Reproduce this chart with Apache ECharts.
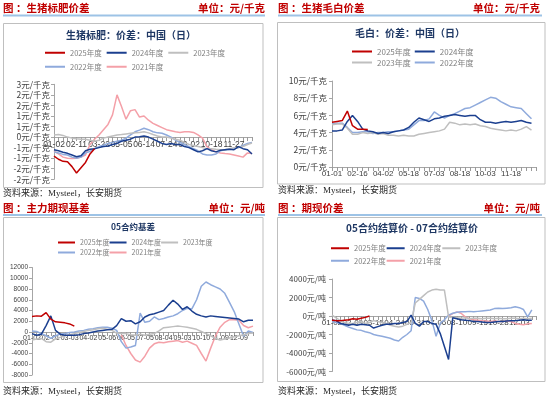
<!DOCTYPE html>
<html><head><meta charset="utf-8">
<script src="https://cdn.jsdelivr.net/npm/echarts@6.0.0/dist/echarts.min.js"></script>
<style>html,body{margin:0;padding:0;background:#fff;}#c{width:550px;height:399px;}</style>
</head><body><div id="c"></div>
<script>
// ================= DATA =================
const yearNames = ['2025年度','2024年度','2023年度','2022年度','2021年度'];

// Panel 1: 生猪标肥价差 (元/千克)
const p1XLabels = ['01-02','02-11','03-22','05-05','06-14','07-24','09-02','10-18','11-27'];
const p1YLabels = ['-2元/千克','-2元/千克','-1元/千克','-1元/千克','0元/千克','1元/千克','1元/千克','2元/千克','2元/千克','3元/千克'];
const p1_2025 = [-0.9,-1.05,-1.15,-1.17,-1.4,-1.7,-1.45,-1.2,-0.8,-0.55];
const p1_2024 = [-0.6,-0.65,-0.72,-0.77,-0.85,-0.93,-0.88,-0.65,-0.58,-0.55,-0.5,-0.45,-0.42,-0.35,-0.3,-0.2,-0.15,-0.1,0.0,0.02,0.05,0.0,-0.1,-0.2,-0.3,-0.35,-0.3,-0.35,-0.35,-0.45,-0.5,-0.6,-0.7,-0.65,-0.55,-0.65,-0.7,-0.62,-0.6,-0.58,-0.6,-0.45,-0.55,-0.6,-0.8];
const p1_2023 = [0.1,0.12,0.08,0.0,-0.05,-0.08,-0.1,-0.1,-0.15,-0.2,-0.15,-0.05,0.0,0.05,0.1,0.12,0.15,0.18,0.2,0.22,0.25,0.2,0.12,0.05,0.0,0.0,-0.05,-0.1,-0.15,-0.25,-0.35,-0.4,-0.45,-0.5,-0.55,-0.55,-0.58,-0.6,-0.6,-0.55,-0.5,-0.5,-0.45,-0.35,-0.28];
const p1_2022 = [-0.7,-0.75,-0.82,-0.85,-0.95,-1.0,-0.95,-0.75,-0.68,-0.55,-0.45,-0.38,-0.3,-0.25,-0.2,-0.15,-0.05,0.1,0.25,0.33,0.42,0.35,0.25,0.2,0.18,0.1,0.0,-0.15,-0.25,-0.35,-0.45,-0.55,-0.65,-0.8,-0.85,-0.85,-0.8,-0.65,-0.6,-0.58,-0.55,-0.5,-0.4,-0.3,-0.25];
const p1_2021 = [-0.66,-0.8,-0.95,-1.0,-1.02,-1.0,-0.95,-0.85,-0.35,-0.1,0.1,0.35,0.6,1.05,2.0,1.45,0.85,1.25,1.3,0.95,1.0,0.8,0.65,0.55,0.45,0.35,0.3,0.25,0.22,0.25,0.25,0.22,0.1,-0.05,-0.45,-0.6,-0.7,-0.75,-0.78,-0.8,-0.85,-0.9,-0.95,-0.75,-0.78];

// Panel 2: 生猪毛白价差 (元/千克)
const p2XLabels = ['01-01','02-16','04-02','05-18','07-03','08-18','10-03','11-18'];
const p2YLabels = ['0元/千克','2元/千克','4元/千克','6元/千克','8元/千克','10元/千克'];
const p2_2025 = [5.2,5.3,5.4,6.5,4.8,4.4,4.4,4.35];
const p2_2024 = [4.2,4.2,4.3,5.3,6.0,5.3,4.4,4.2,4.1,3.9,4.0,3.9,4.1,4.2,4.3,4.6,5.2,5.7,5.5,5.3,5.6,5.7,5.9,6.0,6.1,6.0,5.9,6.0,6.0,5.5,5.2,5.2,5.1,5.2,5.3,5.2,5.3,5.4,5.2,5.1];
const p2_2023 = [4.9,5.0,5.0,4.5,3.8,3.8,4.0,3.9,4.0,3.8,3.9,3.7,3.7,3.6,3.7,3.6,3.6,3.8,3.9,4.0,4.1,4.2,4.4,5.2,5.1,4.9,5.0,4.9,5.0,4.8,4.7,4.5,4.4,4.3,4.2,4.3,4.2,4.4,4.7,4.3];
const p2_2022 = [5.0,5.1,5.1,4.6,4.0,4.0,4.1,4.1,3.9,4.0,4.0,4.1,4.1,4.2,4.3,4.4,4.9,5.4,5.4,5.6,6.4,6.0,5.7,6.0,6.2,6.5,6.8,6.9,7.2,7.5,7.8,8.1,8.0,7.6,7.3,7.0,6.9,6.8,6.2,5.6];

// Panel 3: 主力期现基差 05合约基差 (元/吨)
const p3XLabels = ['01-02','02-01','03-03','04-02','05-06','06-05','07-05','08-04','09-03','10-10','11-09','12-09'];
const p3YLabels = ['-8000','-6000','-4000','-2000','0','2000','4000','6000','8000','10000','12000'];
const p3_2025 = [2900,3000,2950,3600,2400,1900,1800,1700,1500,1100];
const p3_2024 = [-300,-600,-400,1200,3000,300,-400,-600,-600,-600,-500,-300,-200,0,200,300,400,500,1200,2500,2000,2100,1500,1900,2800,3200,3400,3700,4000,5000,5900,5200,4200,4700,3900,3300,3000,2800,3000,2900,2800,2700,2600,2500,2400,1900,2200,2200];
const p3_2023 = [-1500,-1300,-1200,-1800,-1900,-1300,-1000,-700,-500,-300,-100,100,300,400,600,700,500,300,-200,-300,-300,-500,-600,-400,-600,-400,-300,200,800,900,1000,1100,1000,900,700,500,100,-300,-700,-1200,-1500,-1300,-1100,-900,-700,-500,-300,-200];
const p3_2022 = [200,100,-300,-700,-1200,-700,-400,-300,-100,0,200,300,500,600,800,900,900,700,300,-1800,-3000,-2800,-2500,3500,1800,2000,2800,2300,2500,2800,3000,3400,4000,4400,4300,6000,8500,9300,8800,8400,8000,7200,5500,3800,1500,-800,200,-100];
const p3_2021 = [null,null,null,null,null,null,null,null,null,null,null,null,null,null,null,null,null,null,null,-500,-2500,-4000,-5200,-5600,-4500,-3000,-2200,-1900,-2000,-1800,-1700,-1600,-1900,-1700,-2100,-2500,-4000,-5400,-3000,-800,900,1800,2300,2300,2200,1200,800,1100];

// Panel 4: 期现价差 05合约结算价 - 07合约结算价 (元/吨)
const p4XLabels = ['01-02','02-09','03-15','04-24','05-31','07-06','08-10','09-15','10-28','12-03'];
const p4YLabels = ['-6000元/吨','-4000元/吨','-2000元/吨','0元/吨','2000元/吨','4000元/吨'];
const p4_2025 = [-450,-500,-500,-450,-400,-300,-350,-250,-150,0];
const p4_2024 = [-430,-500,-800,-900,-1000,-900,-1000,-900,-950,-1000,-1300,-1150,-1000,-900,-900,-800,-800,-700,-600,100,-800,-1100,-600,-600,-800,-900,-1900,-3300,-4700,-200,-300,-400,-450,-500,-600,-600,-650,-700,-700,-650,-600,-600,-550,-500,-500,-450,-400,-450,-450];
const p4_2023 = [100,-200,-500,-700,-800,-800,-700,-600,-800,-700,-500,-600,-700,-800,-1000,-1100,-1200,-1100,-900,-700,1400,1800,2200,2600,2800,2900,2800,2800,-100,-150,-200,-250,-200,-300,-250,-250,-300,-250,-250,-300,-250,-300,-300,-250,-250,-300,-250,-300,-250];
const p4_2022 = [-600,-700,-800,-1000,-1200,-1350,-1500,-1550,-1700,-1800,-2000,-2100,-2200,-2300,-2400,-2600,-2700,-2300,-2000,-1600,2000,1900,1600,700,-500,-2200,-800,-400,100,300,400,450,450,500,450,500,550,600,650,800,850,800,850,900,1000,900,700,-100,650];
const p4_2021 = [null,null,null,null,null,null,null,null,null,null,null,null,null,null,null,null,null,null,null,null,null,null,null,null,null,null,null,null,0,250,450,300,-100,-300,-400,-450,-500,-550,-600,-550,-600,-600,-550,-600,-800,-900,-950,-850,-800];

// ================= HELPERS =================
const DAY = 86400000;
function md(s){const p=s.split('-').map(Number);return Date.UTC(2024,p[0]-1,p[1]);}
function fmt(t){const d=new Date(t);return String(d.getUTCMonth()+1).padStart(2,'0')+'-'+String(d.getUTCDate()).padStart(2,'0');}
// sample dates between the tick-label dates (per samples per label interval)
function makeCats(labels, per, tail){
  const out=[];
  for(let i=0;i<labels.length-1;i++){
    const a=md(labels[i]), b=md(labels[i+1]), n=(b-a)/DAY;
    for(let k=0;k<per;k++) out.push(fmt(a+Math.round(n*k/per)*DAY));
  }
  const last=md(labels[labels.length-1]), end=md('12-31'), n=(end-last)/DAY;
  for(let k=0;k<=tail;k++) out.push(fmt(last+Math.round(n*k/tail)*DAY));
  return out;
}
const p1Cats = makeCats(p1XLabels,5,4);
const p2Cats = makeCats(p2XLabels,5,5);
const p3Cats = makeCats(p3XLabels,4,3);
const p4Cats = makeCats(p4XLabels,5,4);

const COLORS = {'2025年度':'#C00000','2024年度':'#1B3F8F','2023年度':'#BFBFBF','2022年度':'#8FAADC','2021年度':'#F4A0A8'};
const AX = '#A6A6A6';
const CJK = '"Noto Sans CJK SC", sans-serif';

const GRIDS = [
  {left:54, top:84.3, width:198, height:95},
  {left:332, top:81, width:204.6, height:86},
  {left:32, top:267.5, width:221, height:107.5},
  {left:332, top:279, width:204, height:92.5}
];
const YR = [[-2,2.5,0.5],[0,10,2],[-8000,12000,2000],[-6000,4000,2000]];

// x axis drawn through value 0 of its panel's y axis
function xAxisCfg(gi, cats, labels, fs){
  const r = YR[gi];
  const off = -GRIDS[gi].height * (0 - r[0]) / (r[1] - r[0]);
  return {type:'category', gridIndex:gi, data:cats, boundaryGap:false, position:'bottom', offset:off,
    axisLine:{onZero:false, lineStyle:{color:AX,width:1}},
    axisTick:{show:true, interval:0, length:4, lineStyle:{color:'#9A9A9A'}},
    axisLabel:{interval:function(i,v){return labels.indexOf(v)>=0;}, fontSize:fs, color:'#404040', margin:3, fontFamily:'"Liberation Sans", sans-serif'},
    splitLine:{show:false}};
}
function yAxisCfg(gi, labels, fs, margin, family){
  const r = YR[gi];
  return {type:'value', gridIndex:gi, min:r[0], max:r[1], interval:r[2],
    axisLine:{show:true, lineStyle:{color:AX}},
    axisTick:{show:true, length:3, lineStyle:{color:AX}},
    splitLine:{show:false},
    axisLabel:{fontSize:fs, color:'#404040', margin:margin, fontFamily:family,
      formatter:function(v){return labels[Math.round((v-r[0])/r[2])];}}};
}
function line(name, data, gi){
  const c = COLORS[name];
  return {type:'line', name:name, data:data, xAxisIndex:gi, yAxisIndex:gi, symbol:'none', showSymbol:false,
    lineStyle:{width:1.5, color:c}, itemStyle:{color:c}, animation:false, connectNulls:false};
}
function legendCfg(names, left, top, iw, gap, fs){
  return {data:names, left:left, top:top, orient:'horizontal', icon:'rect', itemWidth:iw, itemHeight:2,
    itemGap:gap, selectedMode:false, padding:0,
    textStyle:{fontSize:fs, color:'#7F7F7F', fontFamily:CJK}};
}
function txt(s, x, y, font, fill, align){
  return {type:'text', x:x, y:y, silent:true,
    style:{text:s, font:font, fill:fill, textAlign:align, align:align, textVerticalAlign:'middle', verticalAlign:'middle'}};
}
function hline(x1,x2,y,color,w){
  return {type:'line', silent:true, shape:{x1:x1,y1:y,x2:x2,y2:y}, style:{stroke:color,lineWidth:w}};
}
function box(x,y,w,h){
  return {type:'rect', silent:true, shape:{x:x,y:y,width:w,height:h}, style:{fill:'none',stroke:'#BFBFBF',lineWidth:1}};
}

const HEAD = 'bold 10.5px '+CJK;
const RED = '#C00000';
const TITLE = '#1F3864';
const SRC = '9px "Liberation Serif", '+CJK;
const SEP = '#9DC3E6';

const option = {
  backgroundColor:'#ffffff',
  animation:false,
  grid:GRIDS,
  xAxis:[
    xAxisCfg(0,p1Cats,p1XLabels,8.5),
    xAxisCfg(1,p2Cats,p2XLabels,8),
    xAxisCfg(2,p3Cats,p3XLabels,7),
    xAxisCfg(3,p4Cats,p4XLabels,8)
  ],
  yAxis:[
    yAxisCfg(0,p1YLabels,8.5,4,CJK),
    yAxisCfg(1,p2YLabels,8.5,5,CJK),
    yAxisCfg(2,p3YLabels,6.5,4,'"Liberation Sans", sans-serif'),
    yAxisCfg(3,p4YLabels,8,6,CJK)
  ],
  legend:[
    legendCfg(['2025年度','2024年度','2023年度'],45,49,20,5,7.5),
    legendCfg(['2022年度','2021年度'],45,63,20,5,7.5),
    legendCfg(['2025年度','2024年度'],352,47.5,20,4,8),
    legendCfg(['2023年度','2022年度'],352,58.5,20,4,8),
    legendCfg(['2025年度','2024年度','2023年度'],58,239,17,0,7),
    legendCfg(['2022年度','2021年度'],58,249,17,0,7),
    legendCfg(['2025年度','2024年度','2023年度'],331,244.5,18,1,7.5),
    legendCfg(['2022年度','2021年度'],331,257,18,1,7.5)
  ],
  series:[
    line('2021年度',p1_2021,0), line('2022年度',p1_2022,0), line('2023年度',p1_2023,0), line('2024年度',p1_2024,0), line('2025年度',p1_2025,0),
    line('2022年度',p2_2022,1), line('2023年度',p2_2023,1), line('2024年度',p2_2024,1), line('2025年度',p2_2025,1),
    line('2021年度',p3_2021,2), line('2022年度',p3_2022,2), line('2023年度',p3_2023,2), line('2024年度',p3_2024,2), line('2025年度',p3_2025,2),
    line('2021年度',p4_2021,3), line('2022年度',p4_2022,3), line('2023年度',p4_2023,3), line('2024年度',p4_2024,3), line('2025年度',p4_2025,3)
  ],
  graphic:[
    // headers
    txt('图 ：生猪标肥价差',3,8,HEAD,RED,'left'), txt('单位：元/千克',265,8,HEAD,RED,'right'), hline(3,265,15.5,SEP,2),
    txt('图 ：生猪毛白价差',278,8,HEAD,RED,'left'), txt('单位：元/千克',540,8,HEAD,RED,'right'), hline(278,542,15.5,SEP,2),
    txt('图 ：主力期现基差',3,208,HEAD,RED,'left'), txt('单位：元/吨',265,208,HEAD,RED,'right'), hline(3,265,215,SEP,2),
    txt('图 ：期现价差',278,208,HEAD,RED,'left'), txt('单位：元/吨',540,208,HEAD,RED,'right'), hline(278,542,215,SEP,2),
    // boxes
    box(3.5,23.5,259.5,164), box(277.5,22.5,267.5,161.5), box(3.5,217.5,259.5,165), box(277.5,217.5,267.5,164),
    // chart titles
    txt('生猪标肥：价差：中国（日）',131,35,'bold 10px '+CJK,TITLE,'center'),
    txt('毛白：价差：中国（日）',410,33,'bold 10px '+CJK,TITLE,'center'),
    txt('05合约基差',133,227,'bold 8.5px '+CJK,TITLE,'center'),
    txt('05合约结算价 - 07合约结算价',412,228.5,'bold 10px '+CJK,TITLE,'center'),
    // sources
    txt('资料来源：Mysteel，长安期货',3,194,SRC,'#262626','left'),
    txt('资料来源：Mysteel，长安期货',278,191,SRC,'#262626','left'),
    txt('资料来源：Mysteel，长安期货',3,392,SRC,'#262626','left'),
    txt('资料来源：Mysteel，长安期货',278,392,SRC,'#262626','left')
  ]
};
const chart = echarts.init(document.getElementById('c'), null, {renderer:'canvas'});
chart.setOption(option);
</script>
</body></html>
